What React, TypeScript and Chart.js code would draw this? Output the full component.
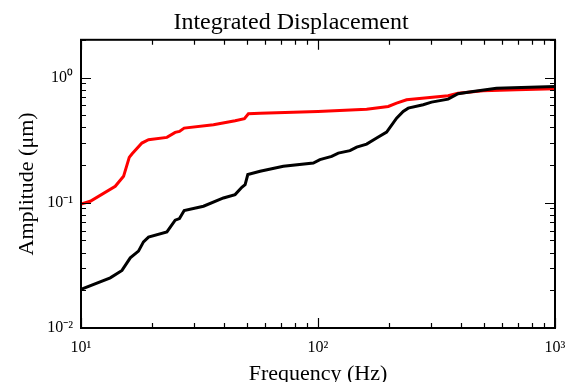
import React, { useEffect, useRef } from 'react';
import { Chart, registerables } from 'chart.js';

Chart.register(...registerables);

const redFreq = [10, 10.94, 13.95, 15.12, 15.98, 16.4, 18.07, 19.27, 23.04, 24.97, 26.03, 27.25, 36.22, 44.69, 48.92, 50.86, 56.97, 100, 160.4, 197.9, 214.6, 236.5, 296.5, 354, 390, 497.4, 687.8, 1000];
const redAmp = [0.0978, 0.1028, 0.1353, 0.1626, 0.2304, 0.2448, 0.2996, 0.3189, 0.3326, 0.3644, 0.3713, 0.3945, 0.4199, 0.4519, 0.4688, 0.5137, 0.5193, 0.5359, 0.559, 0.5874, 0.6241, 0.6642, 0.6929, 0.7148, 0.7497, 0.7835, 0.798, 0.8128];

const blackFreq = [10, 13.29, 14.89, 16.14, 17.48, 18.35, 19.27, 23.04, 24.97, 26.03, 27.25, 32.87, 39.9, 44.69, 47.71, 49.26, 50.56, 56.97, 71.41, 95.55, 101.9, 114.2, 121.8, 136.4, 145.6, 160.4, 176.8, 194.8, 214.6, 228.8, 240.2, 277.8, 301.4, 354, 390, 451.3, 566.3, 1000];
const blackAmp = [0.02034, 0.02517, 0.02883, 0.03633, 0.04108, 0.04871, 0.05311, 0.05853, 0.07254, 0.07483, 0.08668, 0.09378, 0.1092, 0.1162, 0.1329, 0.1396, 0.1678, 0.1782, 0.1953, 0.2075, 0.2209, 0.2347, 0.2493, 0.2606, 0.2783, 0.2941, 0.3284, 0.3665, 0.4739, 0.5359, 0.5694, 0.606, 0.6357, 0.6715, 0.7415, 0.7735, 0.8218, 0.8478];

const xTickValues = [10, 100, 1000];
const xTickLabels = ['10\u00B9', '10\u00B2', '10\u00B3'];
const yTickValues = [0.01, 0.1, 1];
const yTickLabels = ['10\u207B\u00B2', '10\u207B\u00B9', '10\u2070'];

const titleText = 'Integrated Displacement';
const xTitle = 'Frequency (Hz)';
const yTitle = 'Amplitude (\u03BCm)';

const FONT = "'Liberation Serif', 'Times New Roman', serif";

const inwardTicks = {
  id: 'inwardTicks',
  afterDraw(chart: any) {
    const { ctx, chartArea } = chart;
    const { left, right, top, bottom } = chartArea;
    const xs = chart.scales.x;
    const ys = chart.scales.y;
    ctx.save();
    ctx.strokeStyle = '#000';
    ctx.lineWidth = 1.2;
    ctx.beginPath();
    for (let d = 10; d < 1000; d *= 10) {
      for (let m = 1; m <= 10; m++) {
        const v = d * m;
        if (v > 1000) continue;
        const px = Math.round(xs.getPixelForValue(v)) + 0.5;
        const len = m === 1 || m === 10 ? 10 : 5;
        ctx.moveTo(px, bottom);
        ctx.lineTo(px, bottom - len);
        ctx.moveTo(px, top);
        ctx.lineTo(px, top + len);
      }
    }
    for (let d = 0.01; d < 2; d *= 10) {
      for (let m = 1; m <= 9; m++) {
        const v = d * m;
        if (v > 2) continue;
        const py = Math.round(ys.getPixelForValue(v)) + 0.5;
        const len = m === 1 ? 10 : 5;
        ctx.moveTo(left, py);
        ctx.lineTo(left + len, py);
        ctx.moveTo(right, py);
        ctx.lineTo(right - len, py);
      }
    }
    ctx.stroke();
    ctx.lineWidth = 2;
    ctx.strokeRect(left, top, right - left, bottom - top);
    ctx.restore();
  },
};

export default function App() {
  const ref = useRef<HTMLCanvasElement>(null);
  useEffect(() => {
    if (!ref.current) return;
    const chart = new Chart(ref.current, {
      type: 'line',
      data: {
        datasets: [
          {
            label: 'black',
            data: blackFreq.map((f, i) => ({ x: f, y: blackAmp[i] })),
            borderColor: '#000000',
            borderWidth: 3,
            pointRadius: 0,
            tension: 0,
          },
          {
            label: 'red',
            data: redFreq.map((f, i) => ({ x: f, y: redAmp[i] })),
            borderColor: '#ff0000',
            borderWidth: 3,
            pointRadius: 0,
            tension: 0,
          },
        ],
      },
      options: {
        animation: false,
        responsive: false,
        maintainAspectRatio: false,
        layout: { padding: { left: 13, right: 0, top: 0, bottom: 0 } },
        plugins: {
          legend: { display: false },
          tooltip: { enabled: false },
          title: {
            display: true,
            text: titleText,
            color: '#000',
            font: { family: FONT, size: 24, weight: 'normal' },
            padding: { top: 8, bottom: 3 },
          },
        },
        scales: {
          x: {
            type: 'logarithmic',
            min: 10,
            max: 1000,
            position: 'bottom',
            grid: { display: false, drawTicks: false },
            border: { display: false },
            afterBuildTicks: (s: any) => {
              s.ticks = xTickValues.map((v) => ({ value: v }));
            },
            afterFit: (s: any) => {
              s.height = 54;
              s.paddingLeft = 0;
              s.paddingRight = 14;
            },
            ticks: {
              autoSkip: false,
              maxRotation: 0,
              color: '#000',
              padding: 10,
              font: { family: FONT, size: 16 },
              callback: (v: any) => {
                const i = xTickValues.indexOf(Number(v));
                return i >= 0 ? xTickLabels[i] : '';
              },
            },
            title: {
              display: true,
              text: xTitle,
              color: '#000',
              font: { family: FONT, size: 22 },
              padding: { top: 0, bottom: -5 },
            },
          },
          y: {
            type: 'logarithmic',
            min: 0.01,
            max: 2,
            grid: { display: false, drawTicks: false },
            border: { display: false },
            afterBuildTicks: (s: any) => {
              s.ticks = yTickValues.map((v) => ({ value: v }));
            },
            afterFit: (s: any) => {
              s.width = 68;
            },
            ticks: {
              autoSkip: false,
              color: '#000',
              padding: 8,
              font: { family: FONT, size: 16 },
              callback: (v: any) => {
                const i = yTickValues.indexOf(Number(v));
                return i >= 0 ? yTickLabels[i] : '';
              },
            },
            title: {
              display: true,
              text: yTitle,
              color: '#000',
              font: { family: FONT, size: 22 },
              padding: { top: 1, bottom: 0 },
            },
          },
        },
      },
      plugins: [inwardTicks],
    } as any);
    return () => chart.destroy();
  }, []);
  return (
    <div style={{ position: 'fixed', left: 0, top: 0, width: 569, height: 382, background: '#fff' }}>
      <canvas ref={ref} width={569} height={382} style={{ width: 569, height: 382 }} />
    </div>
  );
}
